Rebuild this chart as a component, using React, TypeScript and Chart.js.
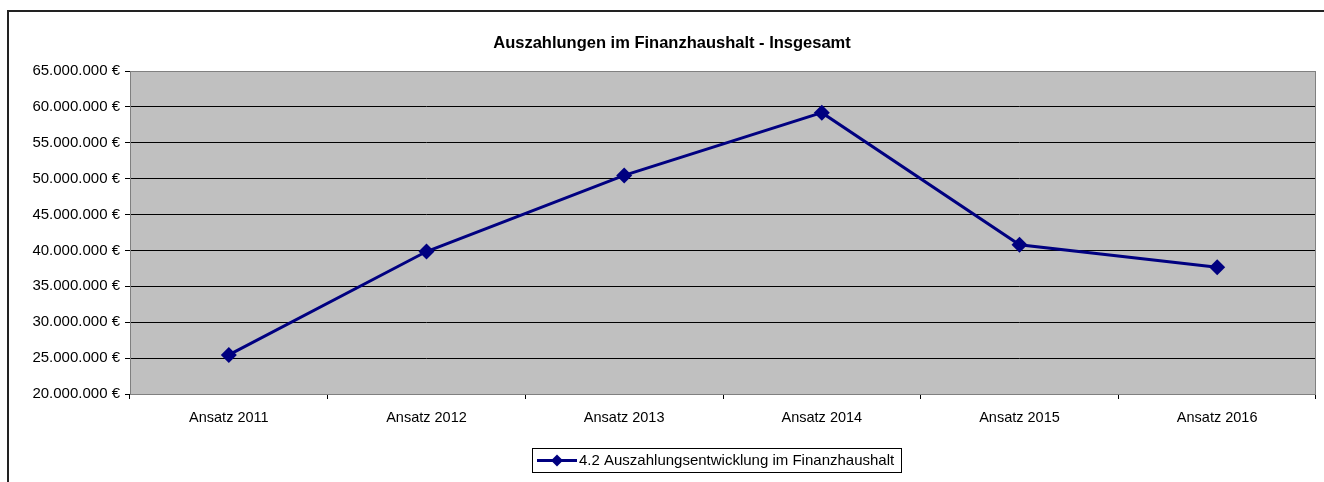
import React, { useEffect, useRef } from "react";
import { Chart, registerables } from "chart.js";

Chart.register(...registerables);

const chartTitle = "Auszahlungen im Finanzhaushalt - Insgesamt";
const seriesLabel = "4.2 Auszahlungsentwicklung im Finanzhaushalt";
const categories = ["Ansatz 2011", "Ansatz 2012", "Ansatz 2013", "Ansatz 2014", "Ansatz 2015", "Ansatz 2016"];
const values = [25450000, 39850000, 50450000, 59200000, 40800000, 37650000];
const yMin = 20000000;
const yMax = 65000000;
const yStep = 5000000;

const FONT = "'Liberation Sans', Arial, sans-serif";
const NAVY = "#000080";

function formatEuro(v: number): string {
  return String(Math.round(v)).replace(/\B(?=(\d{3})+(?!\d))/g, ".") + " €";
}

function drawDiamond(ctx: CanvasRenderingContext2D, x: number, y: number, r: number) {
  ctx.beginPath();
  ctx.moveTo(x, y - r);
  ctx.lineTo(x + r, y);
  ctx.lineTo(x, y + r);
  ctx.lineTo(x - r, y);
  ctx.closePath();
  ctx.fill();
}

const framePlugin = {
  id: "framePlugin",
  beforeDraw(chart: any) {
    const { ctx, chartArea } = chart;
    ctx.save();
    ctx.fillStyle = "#ffffff";
    ctx.fillRect(0, 0, chart.width, chart.height);
    ctx.fillStyle = "#222222";
    ctx.fillRect(7, 10, 2, chart.height - 10);
    ctx.fillRect(7, 10, chart.width - 7, 2);
    ctx.fillStyle = "#C0C0C0";
    ctx.fillRect(chartArea.left, chartArea.top, chartArea.right - chartArea.left, chartArea.bottom - chartArea.top);
    ctx.restore();
  },
  beforeDatasetsDraw(chart: any) {
    const { ctx, chartArea } = chart;
    ctx.save();
    ctx.strokeStyle = "#808080";
    ctx.lineWidth = 1;
    ctx.strokeRect(chartArea.left + 0.5, chartArea.top + 0.5, chartArea.right - chartArea.left - 1, chartArea.bottom - chartArea.top);
    ctx.restore();
  },
  afterDraw(chart: any) {
    const { ctx } = chart;
    ctx.save();
    // title
    ctx.fillStyle = "#000000";
    ctx.font = `bold 16.5px ${FONT}`;
    ctx.textAlign = "center";
    ctx.textBaseline = "middle";
    ctx.fillText(chartTitle, 672, 43);
    // legend
    const bx = 532.5, by = 448.5, bw = 369, bh = 24;
    ctx.strokeStyle = "#000000";
    ctx.lineWidth = 1;
    ctx.strokeRect(bx, by, bw, bh);
    const ly = 460.5;
    ctx.strokeStyle = NAVY;
    ctx.lineWidth = 3;
    ctx.beginPath();
    ctx.moveTo(537, ly);
    ctx.lineTo(577, ly);
    ctx.stroke();
    ctx.fillStyle = NAVY;
    drawDiamond(ctx, 557, ly, 6);
    ctx.fillStyle = "#000000";
    ctx.font = `15px ${FONT}`;
    ctx.textAlign = "left";
    ctx.textBaseline = "middle";
    ctx.fillText(seriesLabel, 579, ly);
    ctx.restore();
  },
};

export default function App() {
  const canvasRef = useRef<HTMLCanvasElement | null>(null);

  useEffect(() => {
    const canvas = canvasRef.current;
    if (!canvas) return;
    const chart = new Chart(canvas, {
      type: "line",
      data: {
        labels: categories,
        datasets: [
          {
            label: seriesLabel,
            data: values,
            borderColor: NAVY,
            backgroundColor: NAVY,
            borderWidth: 3,
            pointStyle: "rectRot",
            pointRadius: 8,
            pointHoverRadius: 8,
            pointBorderWidth: 0,
            pointBackgroundColor: NAVY,
            tension: 0,
          },
        ],
      },
      options: {
        responsive: false,
        animation: false,
        devicePixelRatio: 1,
        layout: { padding: { left: 0, top: 71, right: 8, bottom: 0 } },
        plugins: {
          legend: { display: false },
          title: { display: false },
          tooltip: { enabled: false },
        },
        scales: {
          x: {
            type: "category",
            offset: true,
            grid: {
              offset: true,
              drawOnChartArea: false,
              drawTicks: true,
              tickLength: 5,
              color: "#000000",
              lineWidth: 1,
            },
            border: { display: false },
            ticks: {
              color: "#000000",
              padding: 10,
              font: { family: FONT, size: 14.5 },
              maxRotation: 0,
              autoSkip: false,
            },
            afterFit(scale: any) {
              scale.height = 88;
            },
          },
          y: {
            type: "linear",
            min: yMin,
            max: yMax,
            grid: {
              drawOnChartArea: true,
              drawTicks: true,
              tickLength: 5,
              color: "#000000",
              lineWidth: 1,
            },
            border: { display: false },
            ticks: {
              stepSize: yStep,
              color: "#000000",
              padding: 5,
              font: { family: FONT, size: 15 },
              callback: (v: any) => formatEuro(Number(v)),
            },
            afterFit(scale: any) {
              scale.width = 130;
            },
          },
        },
      },
      plugins: [framePlugin],
    });
    return () => chart.destroy();
  }, []);

  return (
    <div style={{ position: "fixed", left: 0, top: 0, width: 1324, height: 482, background: "#fff" }}>
      <canvas ref={canvasRef} width={1324} height={482} style={{ display: "block" }} />
    </div>
  );
}
